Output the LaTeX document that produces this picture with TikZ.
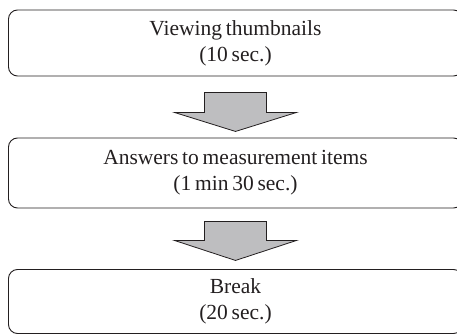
\documentclass[tikz,border=0pt]{standalone}
\usepackage{fontspec}
\setmainfont{Liberation Serif}[WordSpace=0.7]
\usetikzlibrary{calc}
\definecolor{ink}{HTML}{231F20}
\definecolor{arrowgray}{HTML}{BEBEC0}
\begin{document}
\begin{tikzpicture}[x=1pt,y=-1pt,
  stagebox/.style={draw=ink, line width=0.9pt, rounded corners=9pt, minimum width=454pt,
    align=center, text=ink, font=\fontsize{21.5}{26}\selectfont, inner sep=0pt},
  blockarrow/.style={draw=ink, line width=0.8pt, fill=arrowgray, line join=miter}]
\useasboundingbox (0,0) rectangle (457,336);
\begin{scope}
\clip (0,0) rectangle (457,336);
\node[stagebox, minimum height=66pt] (b1) at (235.5,43) {Viewing thumbnails\\(10 sec.)};
\node[stagebox, minimum height=70pt] (b2) at (235.5,173) {Answers to measurement items\\(1 min 30 sec.)};
\node[stagebox, minimum height=64pt] (b3) at (235.5,301.5) {Break\\(20 sec.)};
\end{scope}
% block arrow 1
\coordinate (a1) at ($(b1.south)+(0,16)$);
\draw[blockarrow] ($(a1)+(-31,0)$) -- ($(a1)+(31,0)$) -- ($(a1)+(31,20)$) -- ($(a1)+(61,20)$)
  -- ($(a1)+(0,39)$) -- ($(a1)+(-61,20)$) -- ($(a1)+(-31,20)$) -- cycle;
% block arrow 2
\coordinate (a2) at ($(b2.south)+(0,13)$);
\draw[blockarrow] ($(a2)+(-31,0)$) -- ($(a2)+(31,0)$) -- ($(a2)+(31,19)$) -- ($(a2)+(61,19)$)
  -- ($(a2)+(0,39)$) -- ($(a2)+(-61,19)$) -- ($(a2)+(-31,19)$) -- cycle;
\end{tikzpicture}
\end{document}
